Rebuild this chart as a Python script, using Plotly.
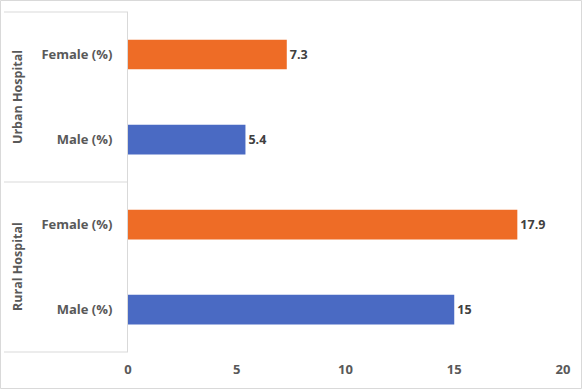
import plotly.graph_objects as go

groups = ["Rural Hospital", "Rural Hospital", "Urban Hospital", "Urban Hospital"]
subcats = ["Male (%)", "Female (%)", "Male (%)", "Female (%)"]
values = [15, 17.9, 5.4, 7.3]
labels = ["15", "17.9", "5.4", "7.3"]
colors = ["#4A6AC3", "#EE6C26", "#4A6AC3", "#EE6C26"]
x_ticks = [0, 5, 10, 15, 20]
group_names = ["Rural Hospital", "Urban Hospital"]

ids = [f"{g}|{s}" for g, s in zip(groups, subcats)]

W, H = 583, 390
L, R, T, B = 128, 20, 12, 38
pw, ph = W - L - R, H - T - B

font = "'Open Sans', Lato, sans-serif"

fig = go.Figure(go.Bar(
    y=ids, x=values, orientation="h",
    marker=dict(color=colors, line=dict(width=0)),
    width=0.35,
    text=labels, textposition="outside", cliponaxis=False,
    textfont=dict(family=font, size=12.5, color="#404040", weight="bold"),
    hoverinfo="skip",
))

fig.update_layout(
    width=W, height=H,
    margin=dict(l=L, r=R, t=T, b=B),
    paper_bgcolor="white", plot_bgcolor="white",
    showlegend=False,
    font=dict(family=font),
)
fig.update_xaxes(
    range=[0, 20], tickvals=x_ticks, showgrid=False, zeroline=False,
    showline=False, ticks="",
    tickfont=dict(family=font, size=13, color="#595959", weight="bold"),
    ticklabelstandoff=8,
)
fig.update_yaxes(
    type="category", categoryorder="array", categoryarray=ids,
    tickvals=ids, ticktext=subcats, showgrid=False, zeroline=False,
    showline=True, linecolor="#D9D9D9", linewidth=1, ticks="",
    tickfont=dict(family=font, size=13, color="#595959", weight="bold"),
    ticklabelstandoff=12,
)

x_left = (4 - L) / pw
shapes = []
for yv in [0, 0.5, 1]:
    shapes.append(dict(type="line", xref="paper", yref="paper",
                       x0=x_left, x1=0, y0=yv, y1=yv,
                       line=dict(color="#D9D9D9", width=1)))
# chart border
shapes.append(dict(type="rect", xref="paper", yref="paper",
                   x0=(0.5 - L) / pw, x1=(W - 1.5 - L) / pw,
                   y0=-(H - 1.5 - (T + ph)) / ph, y1=1 + (T - 0.5) / ph,
                   line=dict(color="#D9D9D9", width=1)))
fig.update_layout(shapes=shapes)

for i, g in enumerate(group_names):
    fig.add_annotation(
        text=g, xref="paper", yref="paper",
        x=(17 - L) / pw, y=0.25 + 0.5 * i,
        textangle=-90, showarrow=False,
        xanchor="center", yanchor="middle",
        font=dict(family=font, size=12.5, color="#595959", weight="bold"),
    )

fig.write_html("out.html", config={"displayModeBar": False},
               post_script="document.body.style.margin='0';document.body.style.padding='0';")
